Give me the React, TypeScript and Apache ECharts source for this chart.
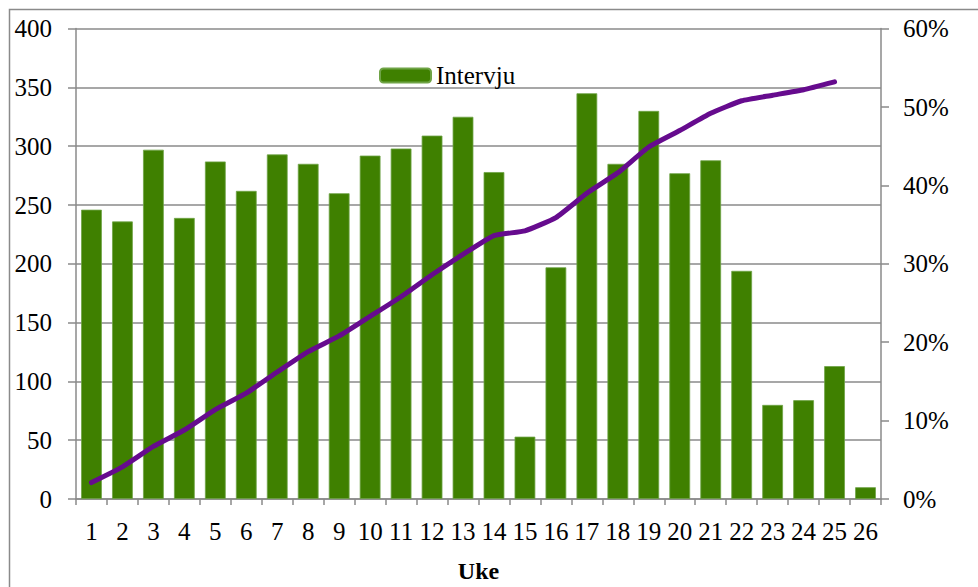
import React, { useEffect, useRef } from "react";
import * as echarts from "echarts";

const weeks = ["1","2","3","4","5","6","7","8","9","10","11","12","13","14","15","16","17","18","19","20","21","22","23","24","25","26"];
const interviews = [246, 236, 297, 239, 287, 262, 293, 285, 260, 292, 298, 309, 325, 278, 53, 197, 345, 285, 330, 277, 288, 194, 80, 84, 113, 10];
const cumulativeShare = [0.021, 0.041, 0.067, 0.088, 0.114, 0.135, 0.162, 0.188, 0.208, 0.233, 0.258, 0.286, 0.312, 0.336, 0.342, 0.359, 0.39, 0.416, 0.449, 0.47, 0.492, 0.508, 0.515, 0.522, 0.532, null];
const leftTicks = { min: 0, max: 400, interval: 50 };
const rightTicks = { min: 0, max: 0.6, interval: 0.1 };

const FONT = "Liberation Serif";

export default function App() {
  const ref = useRef<HTMLDivElement>(null);
  useEffect(() => {
    if (!ref.current) return;
    const chart = echarts.init(ref.current, null, { renderer: "svg" });
    chart.setOption({
      animation: false,
      backgroundColor: "#ffffff",
      textStyle: { fontFamily: FONT, color: "#000" },
      graphic: [
        {
          type: "rect",
          shape: { x: 9.5, y: 9.5, width: 1000, height: 1000 },
          style: { fill: "none", stroke: "#8a8a8a", lineWidth: 1.5 },
          silent: true,
          z: -1,
        },
      ],
      legend: {
        data: ["Intervju"],
        left: 374,
        top: 58,
        itemWidth: 51,
        itemHeight: 14,
        itemGap: 6,
        textStyle: { fontFamily: FONT, fontSize: 25, color: "#000" },
      },
      grid: { left: 76, right: 97, top: 28.6, bottom: 88, outerBoundsMode: "none", containLabel: false },
      xAxis: {
        type: "category",
        data: weeks,
        name: "Uke",
        nameLocation: "middle",
        nameGap: 60,
        nameTextStyle: { fontFamily: FONT, fontSize: 24, fontWeight: "bold", color: "#000" },
        axisLine: { lineStyle: { color: "#8a8a8a", width: 1.5 } },
        axisTick: { show: true, length: 6, lineStyle: { color: "#8a8a8a", width: 1.5 } },
        axisLabel: { fontFamily: FONT, fontSize: 25, color: "#000", margin: 20, interval: 0 },
      },
      yAxis: [
        {
          type: "value",
          ...leftTicks,
          axisLine: { show: true, lineStyle: { color: "#8a8a8a", width: 1.5 } },
          axisTick: { show: true, length: 8, lineStyle: { color: "#8a8a8a", width: 1.5 } },
          splitLine: { show: true, lineStyle: { color: "#8a8a8a", width: 1.5 } },
          axisLabel: { fontFamily: FONT, fontSize: 25, color: "#000", margin: 24 },
        },
        {
          type: "value",
          ...rightTicks,
          position: "right",
          axisLine: { show: true, lineStyle: { color: "#8a8a8a", width: 1.5 } },
          axisTick: { show: true, length: 8, lineStyle: { color: "#8a8a8a", width: 1.5 } },
          splitLine: { show: false },
          axisLabel: {
            fontFamily: FONT,
            fontSize: 25,
            color: "#000",
            margin: 22,
            formatter: (v: number) => `${Math.round(v * 100)}%`,
          },
        },
      ],
      series: [
        {
          name: "Intervju",
          type: "bar",
          data: interviews,
          barWidth: "67%",
          itemStyle: { color: "#3F8000", borderColor: "#6fa346", borderWidth: 0.8 },
          yAxisIndex: 0,
        },
        {
          name: "Andel",
          type: "line",
          data: cumulativeShare,
          yAxisIndex: 1,
          smooth: 0.15,
          showSymbol: false,
          symbol: "none",
          lineStyle: { color: "#660B8E", width: 5, cap: "round" },
          itemStyle: { color: "#660B8E" },
          z: 5,
        },
      ],
    });
    return () => chart.dispose();
  }, []);
  return (
    <div
      ref={ref}
      style={{ position: "absolute", left: 0, top: 0, width: 978, height: 587 }}
    />
  );
}
